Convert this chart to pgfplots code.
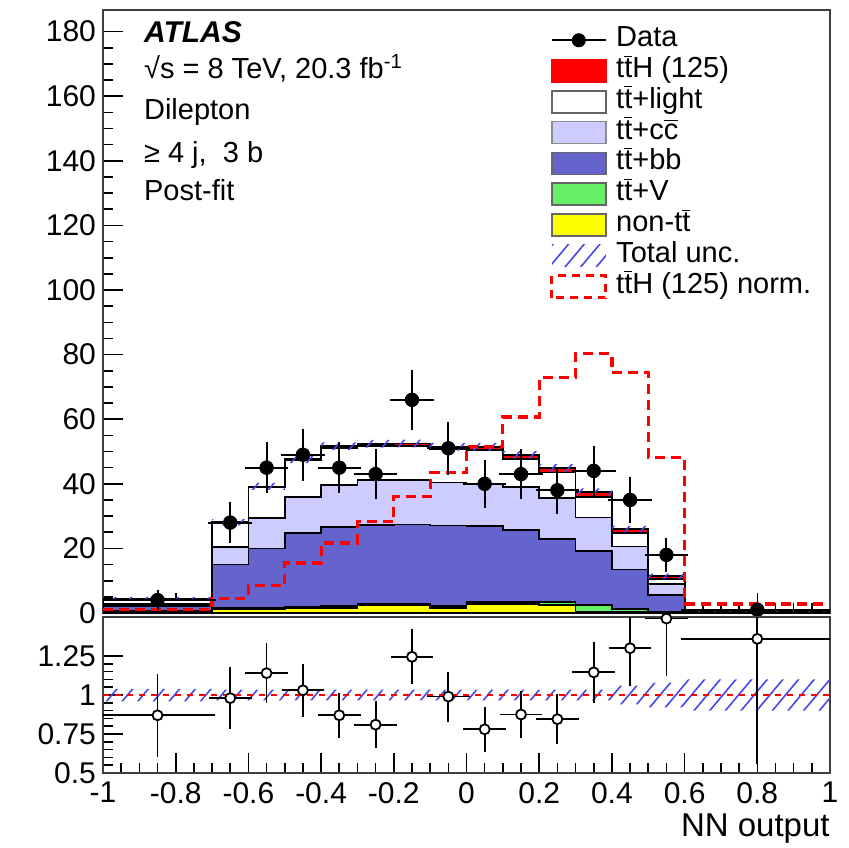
\documentclass[border=0pt]{standalone}
\usepackage{fontspec}
\setmainfont{Liberation Sans}
\usepackage{pgfplots}
\usepackage{pgfplotstable}
\pgfplotsset{compat=1.18}
\usetikzlibrary{patterns,patterns.meta}

\definecolor{ttHred}{RGB}{255,0,0}
\definecolor{ccc}{RGB}{204,204,255}
\definecolor{bbc}{RGB}{100,100,204}
\definecolor{ttvc}{RGB}{102,240,102}
\definecolor{ntc}{RGB}{255,255,0}
\definecolor{hatchc}{RGB}{70,70,235}

\newcommand{\tbar}{\ensuremath{\overline{\mbox{t}}}}
\newcommand{\cbar}{\ensuremath{\overline{\mbox{c}}}}

% cumulative stack tops at bin left edges (last row repeats the last bin)
\pgfplotstableread{
x     nt    v     bb    cc    lt    tot   dn    h
-1.0  0.4   0.5   2.1   2.9   4.4   4.5   4.0   1.0
-0.7  1.3   1.6   15.0  20.5  27.9  28.1  27.1  2.0
-0.6  1.3   1.7   20.0  29.4  38.9  39.2  38.1  2.2
-0.5  1.4   1.8   24.7  36.0  47.2  47.6  46.4  2.4
-0.4  1.6   2.1   26.7  39.6  51.1  51.6  50.4  2.4
-0.3  2.4   2.9   27.3  41.2  51.8  52.4  51.2  2.4
-0.2  2.4   2.9   27.4  41.2  51.8  52.5  51.3  2.4
-0.1  1.6   2.1   27.1  40.4  50.7  51.5  50.3  2.4
0.0   2.8   3.4   27.0  40.0  50.5  51.5  50.3  2.4
0.1   2.7   3.3   25.7  38.9  47.8  49.0  47.8  2.4
0.2   2.6   3.3   22.8  35.5  43.5  44.9  43.7  2.4
0.3   0.4   2.6   19.3  29.6  35.8  37.5  36.4  2.2
0.4   0.2   1.2   13.5  20.6  24.7  26.0  25.0  2.0
0.5   0.1   0.4   5.7   9.0   10.5  11.4  10.6  1.6
0.6   0.05  0.07  0.35  0.45  0.65  0.7   0.4   0.6
1.0   0.05  0.07  0.35  0.45  0.65  0.7   0.4   0.6
}\stacktab

\pgfplotstableread{
x     y
-1.0  1.0
-0.7  4.6
-0.6  8.5
-0.5  15.5
-0.4  21.7
-0.3  28.4
-0.2  36.1
-0.1  43.4
0.0   51.6
0.1   60.7
0.2   72.8
0.3   80.3
0.4   74.5
0.5   48.2
0.6   2.8
1.0   2.8
}\normtab

\pgfplotstableread{
x      ex    y    ey
-0.85  0.15  4    2.0
-0.65  0.05  28   5.3
-0.55  0.05  45   6.7
-0.45  0.05  49   7.0
-0.35  0.05  45   6.7
-0.25  0.05  43   6.6
-0.15  0.05  66   8.1
-0.05  0.05  51   7.1
0.05   0.05  40   6.3
0.15   0.05  43   6.6
0.25   0.05  38   6.2
0.35   0.05  44   6.6
0.45   0.05  35   5.9
0.55   0.05  18   4.2
0.8    0.2   1    1.0
}\datatab

\pgfplotstableread{
x      ex    r      er
-0.85  0.15  0.87   0.245
-0.65  0.05  0.98   0.18
-0.55  0.05  1.14   0.17
-0.45  0.05  1.03   0.15
-0.35  0.05  0.87   0.125
-0.25  0.05  0.81   0.13
-0.15  0.05  1.245  0.155
-0.05  0.05  0.99   0.14
0.05   0.05  0.78   0.125
0.15   0.05  0.875  0.13
0.25   0.05  0.845  0.14
0.35   0.05  1.145  0.175
0.45   0.05  1.30   0.22
0.55   0.05  1.49   0.35
0.8    0.2   1.36   0.78
}\ratiotab

\pgfplotstableread{
x     dn     h
-1.0  0.96   0.08
-0.7  0.965  0.07
-0.6  0.965  0.07
-0.5  0.965  0.07
-0.4  0.965  0.07
-0.3  0.965  0.07
-0.2  0.965  0.07
-0.1  0.965  0.07
0.0   0.965  0.07
0.1   0.965  0.07
0.2   0.965  0.07
0.3   0.965  0.07
0.4   0.94   0.12
0.5   0.92   0.16
0.6   0.90   0.20
1.0   0.90   0.20
}\bandtab

\pgfplotsset{
  common/.style={
    scale only axis, width=363.5pt,
    xmin=-1, xmax=1,
    tick align=inside, xtick pos=left, ytick pos=left,
    major tick length=10pt, minor tick length=5pt,
    tick style={black, line width=0.8pt},
    axis line style={black!75, line width=1.2pt},
    minor x tick num=3,
    xtick={-1,-0.8,-0.6,-0.4,-0.2,0,0.2,0.4,0.6,0.8,1},
    every tick label/.append style={font=\fontsize{15}{15}\selectfont},
    /pgf/number format/assume math mode=true,
  },
  stk/.style={const plot mark left, draw=black, line width=0.9pt},
  hatch/.style={draw=none, pattern={Lines[angle=50,distance=6pt,line width=0.8pt]}, pattern color=hatchc},
  boxleg/.style 2 args={legend image code/.code={\draw[fill=#1, draw=#2, line width=0.8pt] (0pt,-5.5pt) rectangle (27pt,5.5pt);}},
}

\begin{document}
\begin{tikzpicture}
\path[use as bounding box] (-51.5pt,-117pt) rectangle (373pt,306.5pt);

\begin{axis}[common, name=main, at={(0,0)}, anchor=south west,
  height=301.5pt, ymin=0, ymax=186.7,
  ytick={0,20,...,180}, minor y tick num=3, xticklabels={},
  legend style={at={(rel axis cs:0.6149,0.976)}, anchor=north west,
    draw=none, fill=none, inner sep=0pt, row sep=0pt,
    font=\fontsize{14.5}{14.5}\selectfont,
    nodes={inner sep=0pt, inner xsep=4.5pt, text height=10.9pt, text depth=4.5pt}},
  legend cell align=left]

\addplot[stk, fill=ttHred, forget plot] table[x=x,y=tot]{\stacktab} \closedcycle;
\addplot[stk, fill=white, forget plot] table[x=x,y=lt]{\stacktab} \closedcycle;
\addplot[stk, fill=ccc, forget plot] table[x=x,y=cc]{\stacktab} \closedcycle;
\addplot[stk, fill=bbc, forget plot] table[x=x,y=bb]{\stacktab} \closedcycle;
\addplot[stk, fill=ttvc, forget plot] table[x=x,y=v]{\stacktab} \closedcycle;
\addplot[stk, fill=ntc, forget plot] table[x=x,y=nt]{\stacktab} \closedcycle;

% total uncertainty band
\addplot[const plot mark left, draw=none, stack plots=y, forget plot] table[x=x,y=dn]{\stacktab};
\addplot[const plot mark left, hatch, stack plots=y, forget plot] table[x=x,y=h]{\stacktab} \closedcycle;

% normalised ttH
\addplot[const plot mark left, draw=ttHred, line width=1.6pt, dash pattern=on 5pt off 3pt, forget plot] table[x=x,y=y]{\normtab};

% data
\addplot[only marks, mark=*, mark size=3.4pt, black, forget plot,
  error bars/.cd, x dir=both, x explicit, y dir=both, y explicit,
  error bar style={line width=1pt, black},
  error mark options={mark size=1.8pt, line width=1pt, black}]
  table[x=x, y=y, x error=ex, y error=ey]{\datatab};

\addlegendimage{legend image code/.code={\draw[black, line width=1pt] (0pt,0pt) -- (27pt,0pt); \fill[black] (13.5pt,0pt) circle (3.3pt);}}
\addlegendentry{Data}
\addlegendimage{boxleg={ttHred}{ttHred}}
\addlegendentry{t\tbar H (125)}
\addlegendimage{boxleg={white}{black!60}}
\addlegendentry{t\tbar+light}
\addlegendimage{boxleg={ccc}{black!45}}
\addlegendentry{t\tbar+c\cbar}
\addlegendimage{boxleg={bbc}{black!60}}
\addlegendentry{t\tbar+bb}
\addlegendimage{boxleg={ttvc}{black!60}}
\addlegendentry{t\tbar+V}
\addlegendimage{boxleg={ntc}{black!60}}
\addlegendentry{non-t\tbar}
\addlegendimage{legend image code/.code={\path[draw=none, pattern={Lines[angle=50,distance=6pt,line width=0.8pt]}, pattern color=hatchc] (0pt,-5.5pt) rectangle (27pt,5.5pt);}}
\addlegendentry{Total unc.}
\addlegendimage{legend image code/.code={\draw[draw=ttHred, line width=1.4pt, dash pattern=on 4pt off 3pt] (0pt,-5.5pt) rectangle (27pt,5.5pt);}}
\addlegendentry{t\tbar H (125) norm.}

\node[anchor=base west, font=\fontsize{15}{15}\selectfont\bfseries\itshape] at (rel axis cs:0.0468,0.9455) {ATLAS};
\node[anchor=base west, font=\fontsize{14.5}{14.5}\selectfont] at (rel axis cs:0.0468,0.8860) {√s = 8 TeV, 20.3 fb\textsuperscript{-1}};
\node[anchor=base west, font=\fontsize{14.5}{14.5}\selectfont] at (rel axis cs:0.0468,0.8176) {Dilepton};
\node[anchor=base west, font=\fontsize{14.5}{14.5}\selectfont] at (rel axis cs:0.0468,0.7479) {≥ 4 j,\ \ 3 b};
\node[anchor=base west, font=\fontsize{14.5}{14.5}\selectfont] at (rel axis cs:0.0468,0.6849) {Post-fit};
\end{axis}

\begin{axis}[common, name=ratio, at={(0,-2pt)}, anchor=north west,
  height=78pt, ymin=0.5, ymax=1.5,
  ytick={0.5,0.75,1,1.25}, minor y tick num=4,
  xlabel={NN output},
  xlabel style={at={(rel axis cs:1,0)}, anchor=base east, yshift=-31.5pt, inner sep=0pt,
    font=\fontsize{16.5}{16.5}\selectfont},
  xticklabel style={yshift=-1pt}]

\addplot[const plot mark left, draw=none, stack plots=y, forget plot] table[x=x,y=dn]{\bandtab};
\addplot[const plot mark left, hatch, stack plots=y, forget plot] table[x=x,y=h]{\bandtab} \closedcycle;
\addplot[draw=ttHred, line width=0.8pt, dash pattern=on 3pt off 3pt, forget plot] coordinates {(-1,1) (1,1)};

\addplot[only marks, mark=*, mark size=2.5pt, black, mark options={fill=white, line width=0.9pt},
  error bars/.cd, x dir=both, x explicit, y dir=both, y explicit,
  error bar style={line width=0.9pt, black},
  error mark options={mark size=1.6pt, line width=0.9pt, black}]
  table[x=x, y=r, x error=ex, y error=er]{\ratiotab};
\end{axis}
\end{tikzpicture}
\end{document}
